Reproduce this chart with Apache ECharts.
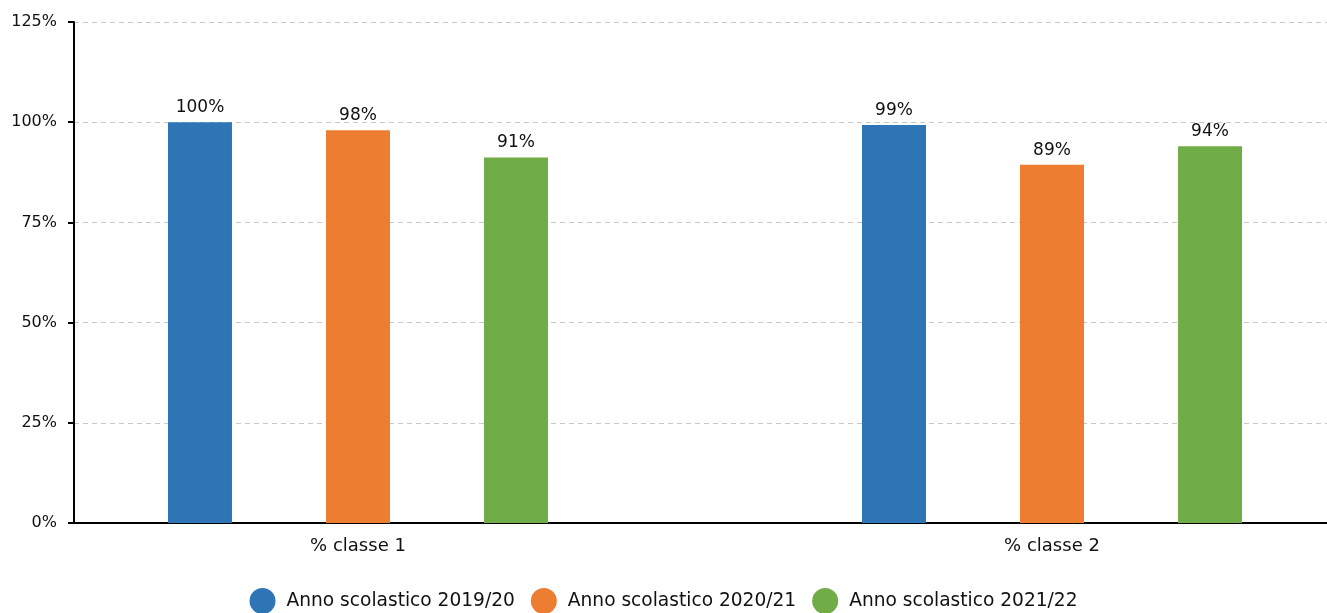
<!DOCTYPE html>
<html>
<head>
<meta charset="utf-8">
<script src="https://cdn.jsdelivr.net/npm/echarts@6/dist/echarts.min.js"></script>
<style>
html, body { margin: 0; padding: 0; background: #fff; }
#chart { width: 1327px; height: 613px; }
</style>
</head>
<body>
<div id="chart"></div>
<script>
// categorie e valori
var categories = ['% classe 1', '% classe 2'];
var seriesNames = ['Anno scolastico 2019/20', 'Anno scolastico 2020/21', 'Anno scolastico 2021/22'];
var values1920 = [100, 99.3];
var values2021 = [98, 89.4];
var values2122 = [91.2, 94];
var yTicks = [0, 25, 50, 75, 100, 125];

var colors = ['#2e75b6', '#ed7d31', '#70ad47'];
var font = 'DejaVu Sans';

var chart = echarts.init(document.getElementById('chart'));

function makeSeries(name, data, i) {
	return {
		name: name,
		type: 'bar',
		xAxisIndex: 1,
		yAxisIndex: 1,
		barWidth: 64,
		barGap: '146.9%',
		data: data,
		itemStyle: { color: colors[i] },
		label: {
			show: true,
			position: 'top',
			distance: 6,
			color: '#111',
			fontFamily: font,
			fontSize: 17,
			formatter: function (p) { return Math.round(p.value) + '%' }
		}
	}
}

chart.setOption({
	animation: false,
	color: colors,
	// grid 0: assi e griglia, grid 1: barre (categorie sui punti, non sulle bande)
	grid: [
		{ left: 74, top: 22, right: 0, bottom: 90 },
		{ left: 358, top: 22, width: 694, bottom: 90 }
	],
	legend: {
		top: 583,
		left: 'center',
		icon: 'circle',
		itemWidth: 26,
		itemHeight: 26,
		itemGap: 16,
		data: seriesNames,
		textStyle: {
			fontFamily: font,
			fontSize: 18.6,
			color: '#111',
			padding: [0, 0, 0, 6]
		}
	},
	xAxis: [
		{
			type: 'category',
			gridIndex: 0,
			data: [''],
			axisLine: { show: true, lineStyle: { color: '#000', width: 2 } },
			axisTick: { show: false },
			axisLabel: { show: false }
		},
		{
			type: 'category',
			gridIndex: 1,
			data: categories,
			boundaryGap: false,
			axisLine: { show: false },
			axisTick: { show: false },
			axisLabel: { color: '#111', fontFamily: font, fontSize: 18, margin: 14, interval: 0 }
		}
	],
	yAxis: [
		{
			type: 'value',
			gridIndex: 0,
			min: yTicks[0],
			max: yTicks[yTicks.length - 1],
			interval: 25,
			axisLine: { show: true, lineStyle: { color: '#000', width: 2 } },
			axisTick: { show: true, length: 6, lineStyle: { color: '#000', width: 2 } },
			axisLabel: { color: '#111', fontFamily: font, fontSize: 16, margin: 17, formatter: '{value}%' },
			splitLine: { show: true, lineStyle: { color: '#c8c8c8', type: [5, 4] } }
		},
		{
			type: 'value',
			gridIndex: 1,
			min: 0,
			max: 125,
			show: false,
			splitLine: { show: false }
		}
	],
	series: [
		makeSeries(seriesNames[0], values1920, 0),
		makeSeries(seriesNames[1], values2021, 1),
		makeSeries(seriesNames[2], values2122, 2)
	]
});
</script>
</body>
</html>
